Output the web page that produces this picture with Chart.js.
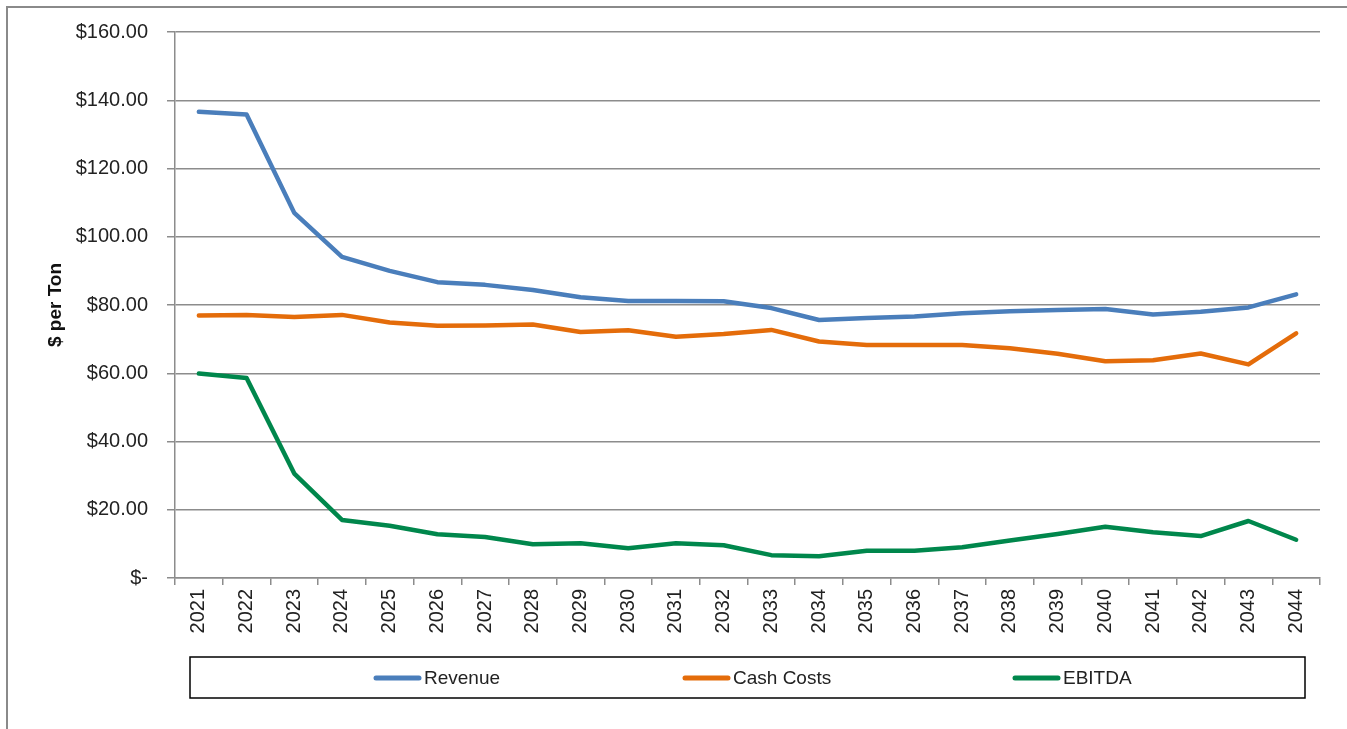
<!DOCTYPE html>
<html>
<head>
<meta charset="utf-8">
<script src="https://cdn.jsdelivr.net/npm/chart.js@4/dist/chart.umd.min.js"></script>
<style>
  html, body { margin: 0; padding: 0; background: #fff; overflow: hidden; }
  #frame { position: absolute; left: 6px; top: 6px; width: 1500px; height: 900px;
           border-left: 2px solid #8a8a8a; border-top: 2px solid #8a8a8a; }
  #wrap { position: absolute; left: 0; top: 0; width: 1347px; height: 729px; }
</style>
</head>
<body>
<div id="frame"></div>
<div id="wrap"><canvas id="priceChart" width="1347" height="729"></canvas></div>
<script>
// chart data
const years = ['2021','2022','2023','2024','2025','2026','2027','2028','2029','2030','2031','2032',
               '2033','2034','2035','2036','2037','2038','2039','2040','2041','2042','2043','2044'];
const revenue = [136.6, 135.8, 107.0, 94.1, 90.0, 86.7, 85.9, 84.4, 82.3, 81.2, 81.2, 81.1,
                 79.1, 75.6, 76.2, 76.6, 77.6, 78.2, 78.5, 78.8, 77.2, 78.0, 79.3, 83.1];
const cashCosts = [76.9, 77.1, 76.5, 77.1, 74.9, 73.9, 74.0, 74.3, 72.1, 72.6, 70.7, 71.5,
                   72.7, 69.3, 68.3, 68.3, 68.3, 67.3, 65.7, 63.5, 63.8, 65.8, 62.6, 71.7];
const ebitda = [59.9, 58.6, 30.6, 17.0, 15.3, 12.8, 12.0, 9.9, 10.2, 8.7, 10.2, 9.6,
                6.7, 6.4, 8.0, 8.0, 9.0, 11.0, 12.9, 15.0, 13.4, 12.3, 16.7, 11.2];

const fontFamily = '"Liberation Sans", Arial, sans-serif';
const gridGray = '#8c8c8c';

// legend drawn in a box under the axis, like the Excel original
const legendBox = {
  id: 'legendBox',
  afterDraw(chart) {
    const ctx = chart.ctx;
    const starts = [374, 683, 1013];
    const y = 678;
    ctx.save();
    ctx.strokeStyle = '#000';
    ctx.lineWidth = 1.5;
    ctx.strokeRect(190, 657, 1115, 41);
    ctx.font = '19px ' + fontFamily;
    ctx.textBaseline = 'middle';
    chart.data.datasets.forEach((ds, i) => {
      ctx.strokeStyle = ds.borderColor;
      ctx.lineWidth = 5;
      ctx.lineCap = 'round';
      ctx.beginPath();
      ctx.moveTo(starts[i] + 2, y);
      ctx.lineTo(starts[i] + 45, y);
      ctx.stroke();
      ctx.fillStyle = '#222';
      ctx.fillText(ds.label, starts[i] + 50, y + 1);
    });
    ctx.restore();
  }
};

const ctx = document.getElementById('priceChart').getContext('2d');
const chart = new Chart(ctx, {
  type: 'line',
  data: {
    labels: years,
    datasets: [
      { label: 'Revenue', data: revenue, borderColor: '#4a7ebb' },
      { label: 'Cash Costs', data: cashCosts, borderColor: '#e46c0a' },
      { label: 'EBITDA', data: ebitda, borderColor: '#00874c' },
    ].map(ds => Object.assign(ds, {
      borderWidth: 4.5,
      pointRadius: 0,
      tension: 0,
      borderCapStyle: 'round',
      borderJoinStyle: 'round',
      fill: false,
    })),
  },
  options: {
    responsive: false,
    maintainAspectRatio: false,
    animation: false,
    devicePixelRatio: 1,
    layout: { padding: { top: 32, right: 27, bottom: 0, left: 0 } },
    plugins: {
      legend: { display: false },
      tooltip: { enabled: false },
    },
    scales: {
      x: {
        offset: true,
        grid: { offset: true, drawOnChartArea: false, drawTicks: true, tickLength: 7, color: gridGray, lineWidth: 1.5 },
        border: { color: gridGray, width: 1.5 },
        ticks: {
          minRotation: 90, maxRotation: 90, autoSkip: false,
          padding: 4,
          color: '#222',
          font: { family: fontFamily, size: 20 },
        },
        afterFit(scale) { scale.height = 151; },
      },
      y: {
        min: 0, max: 160,
        ticks: {
          stepSize: 20,
          padding: 19,
          color: '#222',
          font: { family: fontFamily, size: 20 },
          callback: v => v === 0 ? '$-' : '$' + v.toFixed(2),
        },
        grid: { color: gridGray, lineWidth: 1.5, tickLength: 8 },
        border: { color: gridGray, width: 1.5 },
        title: {
          display: true,
          text: '$ per Ton',
          color: '#111',
          font: { family: fontFamily, size: 19, weight: 'bold' },
          padding: { top: 44, bottom: 0 },
        },
        afterFit(scale) { scale.width = 175; },
      },
    },
  },
  plugins: [legendBox],
});
</script>
</body>
</html>
